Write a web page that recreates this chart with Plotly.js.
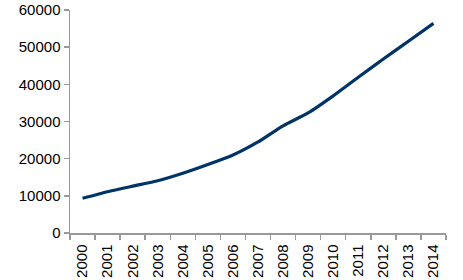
<!DOCTYPE html>
<html><head><meta charset="utf-8">
<script src="https://cdn.plot.ly/plotly-3.0.1.min.js"></script>
<style>html,body{margin:0;padding:0;background:#fff}#c{width:463px;height:280px}</style>
</head><body><div id="c"></div>
<script>
const years = ['2000','2001','2002','2003','2004','2005','2006','2007','2008','2009','2010','2011','2012','2013','2014'];
const values = [9330,11100,12600,14060,16050,18400,20970,24500,28850,32300,36900,41900,46800,51600,56400];
const yTicks = [0,10000,20000,30000,40000,50000,60000];

Plotly.newPlot('c', [{
  x: years, y: values, type: 'scatter', mode: 'lines',
  line: {color: '#003366', width: 3.2, shape: 'spline', smoothing: 0.6},
  hoverinfo: 'none'
}], {
  width: 463, height: 280,
  margin: {l: 70, r: 17, t: 10, b: 47},
  paper_bgcolor: '#fff', plot_bgcolor: '#fff',
  showlegend: false,
  font: {family: 'Liberation Sans, Arial, sans-serif', size: 15, color: '#000'},
  xaxis: {
    type: 'category', range: [-0.5, 14.5], tickson: 'boundaries',
    ticks: 'outside', ticklen: 5, tickcolor: '#999', tickwidth: 1.5,
    showline: true, linecolor: '#999', linewidth: 1.5,
    showgrid: false, zeroline: false, tickangle: -90,
    ticklabelstandoff: 4,
    tickfont: {size: 15}
  },
  yaxis: {
    range: [0, 60000], tickvals: yTicks, ticktext: yTicks.map(String),
    ticks: 'outside', ticklen: 5, tickcolor: '#999', tickwidth: 1.5,
    showline: true, linecolor: '#999', linewidth: 1.5,
    showgrid: false, zeroline: false, tickfont: {size: 15}
  }
}, {staticPlot: true});
</script></body></html>
